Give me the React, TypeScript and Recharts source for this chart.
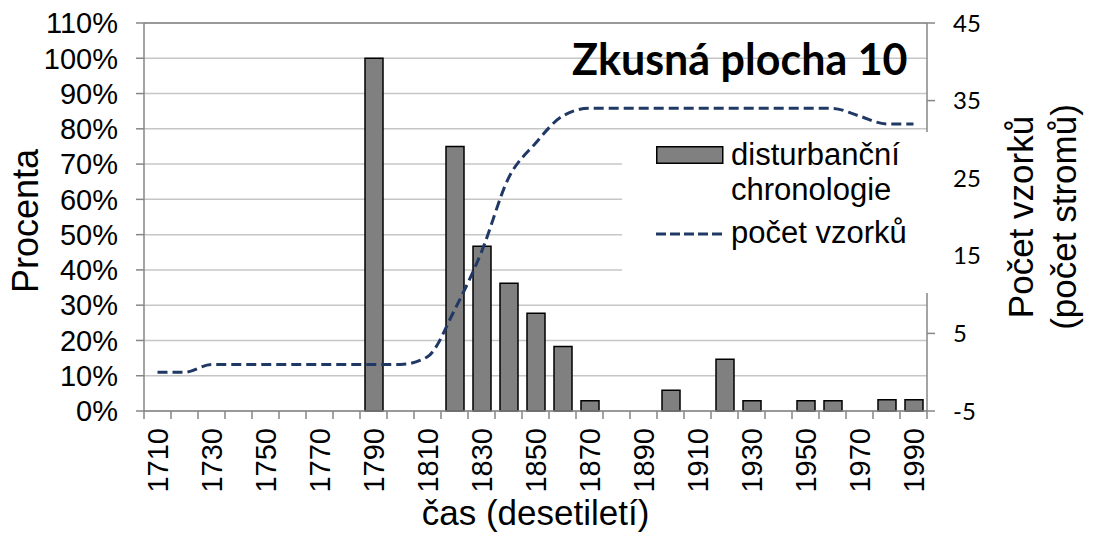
import {
  ComposedChart,
  Bar,
  Line,
  XAxis,
  YAxis,
  CartesianGrid,
  Legend,
  ReferenceLine,
  Label,
} from "recharts";

// decades on the x axis
const decades = [
  1710, 1720, 1730, 1740, 1750, 1760, 1770, 1780, 1790, 1800, 1810, 1820, 1830,
  1840, 1850, 1860, 1870, 1880, 1890, 1900, 1910, 1920, 1930, 1940, 1950, 1960,
  1970, 1980, 1990,
];
// disturbanční chronologie (%)
const disturbance = [
  null, null, null, null, null, null, null, null, 100, null, null, 75, 46.7,
  36.2, 27.7, 18.3, 2.9, null, null, 5.9, null, 14.7, 2.9, null, 2.9, 2.9,
  null, 3.2, 3.2,
];
// počet vzorků (trees)
const sampleCount = [
  0, 0, 1, 1, 1, 1, 1, 1, 1, 1, 2, 8, 15.5, 25, 29.5, 33, 34, 34, 34, 34, 34,
  34, 34, 34, 34, 34, 33, 32, 32,
];
const percentTicks = [0, 10, 20, 30, 40, 50, 60, 70, 80, 90, 100, 110];
const countTicks = [-5, 5, 15, 25, 35, 45];

const data = decades.map((d, i) => ({
  decade: String(d),
  disturbance: disturbance[i],
  samples: sampleCount[i],
}));

const ARIAL = "'Liberation Sans', Arial, sans-serif";
const CALIBRI = "Lato, 'Open Sans', sans-serif";
const NAVY = "#203864";
const AXIS_GREY = "#868686";
const GRID_GREY = "#c6c6c6";
const BAR_GREY = "#808080";

const PLOT_LEFT = 144;
const PLOT_RIGHT = 927;
const BAND = (PLOT_RIGHT - PLOT_LEFT) / decades.length;

function DecadeTick(props: any) {
  const { x, y, index, payload } = props;
  const half = BAND / 2;
  return (
    <g>
      <line x1={x - half} x2={x - half} y1={y} y2={y + 8} stroke={AXIS_GREY} strokeWidth={1.5} />
      {index === decades.length - 1 && (
        <line x1={x + half} x2={x + half} y1={y} y2={y + 8} stroke={AXIS_GREY} strokeWidth={1.5} />
      )}
      {index % 2 === 0 && (
        <text
          transform={`translate(${x},${y + 17}) rotate(-90)`}
          textAnchor="end"
          dy="0.36em"
          fontFamily={ARIAL}
          fontSize={29}
          fill="#000"
        >
          {payload.value}
        </text>
      )}
    </g>
  );
}

const LeftTitle = (props: any) => {
  const vb = props.viewBox || { x: 0, y: 23, width: 144, height: 388 };
  return (
    <text
      transform={`translate(${vb.x + 38},${vb.y + vb.height / 2 + 4}) rotate(-90)`}
      textAnchor="middle"
      fontFamily={ARIAL}
      fontSize={36}
      fill="#000"
    >
      Procenta
    </text>
  );
};

const RightTitle = (props: any) => {
  const vb = props.viewBox || { x: 927, y: 23, width: 171, height: 388 };
  const cy = vb.y + vb.height / 2;
  return (
    <g fontFamily={ARIAL} fontSize={35} fill="#000">
      <text transform={`translate(${vb.x + 106},${cy}) rotate(-90)`} textAnchor="middle">
        Počet vzorků
      </text>
      <text transform={`translate(${vb.x + 149},${cy}) rotate(-90)`} textAnchor="middle">
        (počet stromů)
      </text>
    </g>
  );
};

const BottomTitle = (props: any) => {
  const vb = props.viewBox || { x: 144, y: 411, width: 783, height: 127 };
  return (
    <text
      x={vb.x + vb.width / 2}
      y={vb.y + 114}
      textAnchor="middle"
      fontFamily={ARIAL}
      fontSize={35}
      fill="#000"
    >
      čas (desetiletí)
    </text>
  );
};

const LegendBox = () => (
  <div
    style={{
      position: "relative",
      width: 316,
      height: 161,
      background: "#fff",
      fontFamily: ARIAL,
      fontSize: 31,
      lineHeight: "35px",
      color: "#000",
    }}
  >
    <svg style={{ position: "absolute", left: 34, top: 14 }} width={68} height={18}>
      <rect x={0.75} y={0.75} width={66} height={16.5} fill={BAR_GREY} stroke="#000" strokeWidth={1.5} />
    </svg>
    <div style={{ position: "absolute", left: 109, top: 5, whiteSpace: "nowrap" }}>
      disturbanční
      <br />
      chronologie
    </div>
    <svg style={{ position: "absolute", left: 34, top: 98 }} width={68} height={8}>
      <line x1={0} x2={68} y1={4} y2={4} stroke={NAVY} strokeWidth={3} strokeDasharray="10 4" />
    </svg>
    <div style={{ position: "absolute", left: 109, top: 83, whiteSpace: "nowrap" }}>
      počet vzorků
    </div>
  </div>
);

export default function App() {
  return (
    <div style={{ position: "absolute", left: 0, top: 0, width: 1098, height: 538, background: "#fff" }}>
      <ComposedChart width={1098} height={538} data={data} margin={{ top: 23, right: 0, bottom: 0, left: 0 }}>
        <CartesianGrid yAxisId="left" vertical={false} stroke={GRID_GREY} strokeWidth={1.5} />
        <XAxis
          dataKey="decade"
          height={127}
          interval={0}
          tickLine={false}
          tickSize={0}
          tickMargin={0}
          tick={<DecadeTick />}
          axisLine={{ stroke: AXIS_GREY, strokeWidth: 1.5 }}
        >
          <Label content={<BottomTitle />} />
        </XAxis>
        <YAxis
          yAxisId="left"
          width={144}
          domain={[0, 110]}
          ticks={percentTicks}
          interval={0}
          tickFormatter={(v: number) => `${v}%`}
          tickSize={8}
          tickMargin={18}
          tick={{ fontFamily: ARIAL, fontSize: 29, fill: "#000" }}
          tickLine={{ stroke: AXIS_GREY, strokeWidth: 1.5 }}
          axisLine={{ stroke: AXIS_GREY, strokeWidth: 1.5 }}
        >
          <Label content={<LeftTitle />} />
        </YAxis>
        <YAxis
          yAxisId="right"
          orientation="right"
          width={171}
          domain={[-5, 45]}
          ticks={countTicks}
          interval={0}
          tickSize={8}
          tickMargin={18}
          tick={{ fontFamily: CALIBRI, fontSize: 24, fill: "#000" }}
          tickLine={{ stroke: AXIS_GREY, strokeWidth: 1.5 }}
          axisLine={{ stroke: AXIS_GREY, strokeWidth: 1.5 }}
        >
          <Label content={<RightTitle />} />
        </YAxis>
        <ReferenceLine yAxisId="left" y={110} stroke={AXIS_GREY} strokeWidth={1.5} />
        <Bar
          yAxisId="left"
          dataKey="disturbance"
          name="disturbanční chronologie"
          barSize={18}
          fill={BAR_GREY}
          stroke="#000"
          strokeWidth={1.5}
          isAnimationActive={false}
        />
        <Line
          yAxisId="right"
          type="monotone"
          dataKey="samples"
          name="počet vzorků"
          stroke={NAVY}
          strokeWidth={3}
          strokeDasharray="10 5"
          dot={false}
          activeDot={false}
          isAnimationActive={false}
        />
        <Legend
          layout="vertical"
          align="center"
          verticalAlign="middle"
          content={<LegendBox />}
          wrapperStyle={{ position: "absolute", left: 622, top: 132, width: 316, height: 161 }}
        />
      </ComposedChart>
      <div
        style={{
          position: "absolute",
          left: 572,
          top: 38,
          fontFamily: CALIBRI,
          fontWeight: 700,
          fontSize: 43,
          lineHeight: "42px",
          color: "#000",
          whiteSpace: "nowrap",
        }}
      >
        Zkusná plocha 10
      </div>
    </div>
  );
}
